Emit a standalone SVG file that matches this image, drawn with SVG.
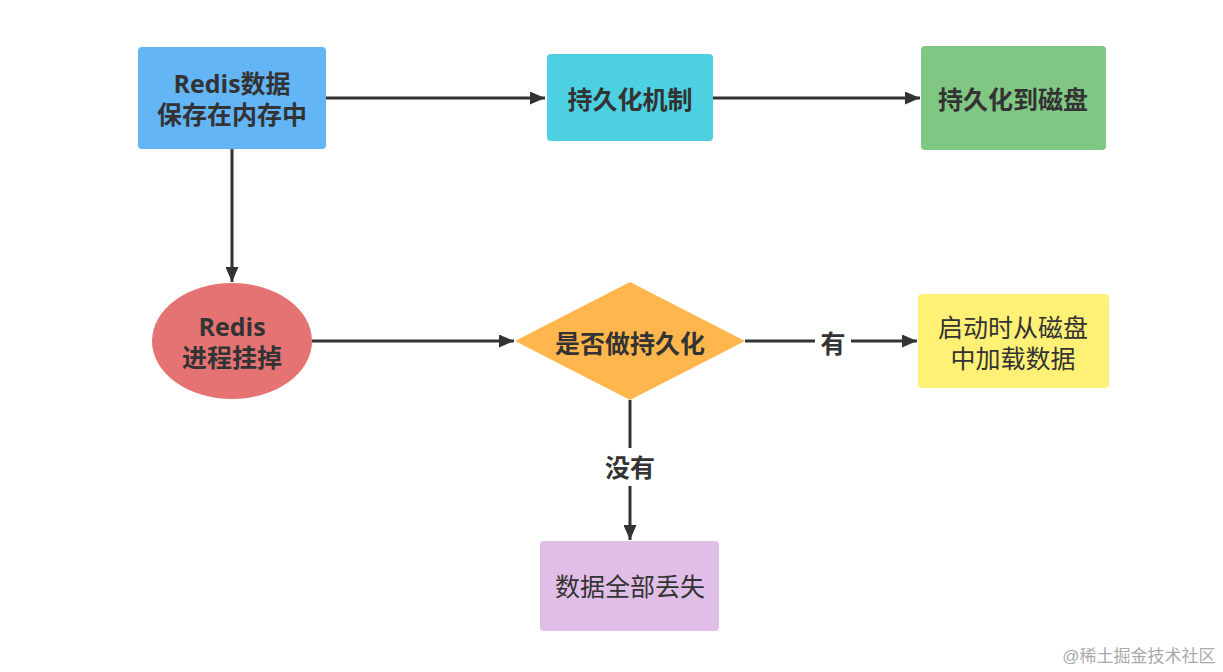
<svg xmlns="http://www.w3.org/2000/svg" width="1223" height="672" viewBox="0 0 1223 672">
<defs>
<style>
text{font-family:"Open Sans","Noto Sans CJK SC",sans-serif;font-size:25px;fill:#333;text-anchor:middle;dominant-baseline:central}
.b{font-weight:bold}
.ln{stroke:#333;stroke-width:3;fill:none}
</style>
<marker id="ah" viewBox="0 0 10 10" refX="10" refY="5" markerWidth="15" markerHeight="13" markerUnits="userSpaceOnUse" orient="auto" preserveAspectRatio="none">
<path d="M0,0 L10,5 L0,10 z" fill="#333"/>
</marker>
</defs>
<rect width="1223" height="672" fill="#fff"/>
<g id="connectors">
<path class="ln" d="M326,98 L545,98" style="marker-end:url(#ah)"/>
<path class="ln" d="M713,98 L920,98" style="marker-end:url(#ah)"/>
<path class="ln" d="M232,149 L232,282" style="marker-end:url(#ah)"/>
<path class="ln" d="M312,341 L514,341" style="marker-end:url(#ah)"/>
<path class="ln" d="M745,341 L815,341"/>
<path class="ln" d="M851,341 L917,341" style="marker-end:url(#ah)"/>
<text class="b" x="833" y="343">有</text>
<path class="ln" d="M630,400 L630,448"/>
<path class="ln" d="M630,486 L630,540" style="marker-end:url(#ah)"/>
<text class="b" x="630" y="467">没有</text>
</g>
<g id="n1">
<rect x="138" y="47" width="188" height="102" rx="4" fill="#64b5f6"/>
<text class="b" x="232" y="83">Redis数据</text>
<text class="b" x="232" y="114">保存在内存中</text>
</g>
<g id="n2">
<rect x="547" y="54" width="166" height="87" rx="4" fill="#4dd0e1"/>
<text class="b" x="630" y="99">持久化机制</text>
</g>
<g id="n3">
<rect x="921" y="46" width="185" height="104" rx="4" fill="#81c784"/>
<text class="b" x="1013" y="99">持久化到磁盘</text>
</g>
<g id="n4">
<ellipse cx="232" cy="341" rx="80" ry="58" fill="#e57373"/>
<text class="b" x="232" y="326">Redis</text>
<text class="b" x="232" y="357">进程挂掉</text>
</g>
<g id="n5">
<polygon points="515,341 630,282 745,341 630,400" fill="#ffb74d"/>
<text class="b" x="630" y="343">是否做持久化</text>
</g>
<g id="n6">
<rect x="918" y="294" width="191" height="94" rx="4" fill="#fff176"/>
<text x="1013" y="327">启动时从磁盘</text>
<text x="1013" y="358">中加载数据</text>
</g>
<g id="n7">
<rect x="540" y="541" width="179" height="90" rx="4" fill="#e1bee7"/>
<text x="630" y="586">数据全部丢失</text>
</g>
<text x="1139" y="656" style="font-size:17px;fill:#aaa;font-family:'Liberation Sans','Noto Sans CJK SC',sans-serif">@稀土掘金技术社区</text>
</svg>
